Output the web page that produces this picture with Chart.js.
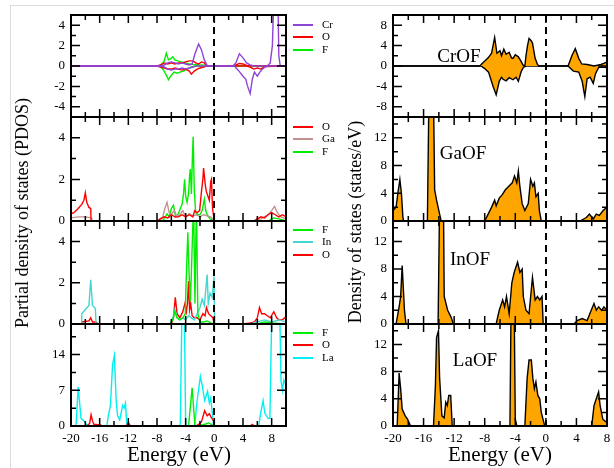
<!DOCTYPE html>
<html>
<head>
<meta charset="utf-8">
<script src="https://cdn.jsdelivr.net/npm/chart.js@4"></script>
<style>
  body { margin: 0; background: #fff; width: 614px; height: 468px; overflow: hidden; position: relative; font-family: "Liberation Serif", serif; }
  canvas { position: absolute; }
  .t { position: absolute; white-space: nowrap; color: #000; line-height: 1; }
  .ytitle { font-size: 18px; transform: translate(-50%, -50%) rotate(-90deg); }
  .xtitle { font-size: 21px; transform: translate(-50%, -50%); }
  .name { font-size: 19px; transform: translate(-50%, -50%); }
  .leg { position: absolute; font-size: 11px; }
  .leg span.l { position: absolute; left: 0; width: 20px; height: 2px; }
  .leg span.n { position: absolute; left: 29px; top: -6px; }
  #outer { position: absolute; left: 10px; top: 5px; width: 640px; height: 500px; border: 1px solid #dcdcdc; }
</style>
</head>
<body>
<div id="outer"></div>

<script>
// ---- tick labels ----
const xLabels = [-20, -16, -12, -8, -4, 0, 4, 8];
const pdosTicks = [0, 2, 4];
const crPdosTicks = [-4, -2, 0, 2, 4];
const laPdosTicks = [0, 7, 14];
const dosTicks = [0, 4, 8, 12];
const crDosTicks = [-8, -4, 0, 4, 8];

// ---- CrOF partial DOS (spin up +, spin down -) ----
const crofCrUpE = [-20, -7.5, -7, -6.5, -6, -5.5, -5, -4.5, -4, -3.5, -3.1, -2.7, -2.2, -1.8, -1.4, -1.0, -0.8, 2.6, 3.0, 3.5, 4.0, 4.5, 5.0, 5.5, 7.4, 7.8, 8.1, 8.4, 8.8, 9.0, 9.2, 10];
const crofCrUpY = [0, 0, 0.1, 0.3, 0.4, 0.3, 0.2, 0.3, 0.2, 0.1, 0.2, 1.2, 2.15, 1.6, 0.6, 0.05, 0, 0, 0.3, 1.2, 0.8, 0.3, 0.1, 0, 0, 0.3, 2, 9, 10, 1, 0, 0];
const crofCrDnE = [-20, -7.5, -7, -6.5, -6, -5.5, -5, -4.5, -4, -3.5, -3, -2.5, 2.8, 3.5, 4.0, 4.4, 4.6, 5.0, 5.3, 5.6, 6.0, 6.3, 6.7, 7.1, 7.5, 10];
const crofCrDnY = [0, 0, -0.1, -0.3, -0.4, -0.3, -0.3, -0.2, -0.3, -0.2, -0.1, 0, 0, -0.55, -1.0, -1.3, -1.9, -2.7, -1.3, -0.6, -1.0, -0.65, -0.3, -0.1, 0, 0];
const crofOUpE = [-20, -8, -7.5, -7, -6.5, -6, -5.5, -5, -4.5, -4, -3.5, -3.0, -2.6, -2.2, -1.8, -1.4, -1, 2.5, 3.0, 3.5, 4.0, 4.5, 10];
const crofOUpY = [0, 0, 0.1, 0.3, 0.2, 0.3, 0.2, 0.3, 0.3, 0.4, 0.5, 0.5, 0.3, 0.2, 0.4, 0.3, 0, 0, 0.1, 0.25, 0.2, 0.05, 0];
const crofODnE = [-20, -8, -7.5, -7, -6.5, -6, -5.5, -5, -4.5, -4, -3.5, -3.2, -2.8, -2.4, -2, -1.5, -1, 4.5, 5, 5.5, 6, 6.5, 7, 10];
const crofODnY = [0, 0, -0.1, -0.2, -0.3, -0.3, -0.2, -0.3, -0.4, -0.3, -0.5, -0.8, -0.5, -0.3, -0.2, -0.1, 0, 0, -0.1, -0.3, -0.2, -0.3, -0.05, 0];
const crofFUpE = [-20, -7.8, -7.3, -7.0, -6.7, -6.4, -6.1, -5.8, -5.5, -5.1, -4.6, -4.0, -3.5, -3.0, -2.0, -1.0, 10];
const crofFUpY = [0, 0, 0.2, 0.5, 1.25, 0.6, 0.7, 0.9, 0.6, 0.5, 0.4, 0.3, 0.2, 0.15, 0.1, 0.05, 0];
const crofFDnE = [-20, -7.8, -7.3, -7.0, -6.7, -6.4, -6.0, -5.6, -5.2, -4.8, -4.3, -3.8, -3.2, -2.5, 10];
const crofFDnY = [0, 0, -0.2, -0.5, -0.9, -1.35, -0.9, -0.6, -0.7, -0.6, -0.5, -0.3, -0.1, 0, 0];

// ---- GaOF partial DOS ----
const gaofOE = [-20, -19.6, -19, -18.5, -18.2, -18.0, -17.8, -17.5, -17.25, -17.2, -17.0, -8, -7.5, -7, -6.5, -6, -5.5, -5, -4.5, -4, -3.5, -3.0, -2.75, -2.4, -2.05, -1.8, -1.6, -1.5, -1.4, -1.25, -1.1, -0.9, -0.7, -0.5, -0.4, -0.25, 0, 5.5, 6, 6.5, 7, 7.5, 8, 8.5, 9, 9.5, 10];
const gaofOY = [0.35, 0.4, 0.6, 0.8, 1.0, 1.35, 0.9, 0.65, 0.6, 0.05, 0, 0, 0.1, 0.2, 0.15, 0.3, 0.2, 0.2, 0.3, 0.2, 0.3, 0.2, 0.5, 0.4, 0.5, 1.4, 2.0, 2.55, 2.2, 1.7, 1.4, 1.2, 1.0, 1.9, 2.0, 0.6, 0, 0, 0.1, 0.2, 0.15, 0.3, 0.4, 0.3, 0.2, 0.3, 0.2];
const gaofGaE = [-20, -19, -18, -17.2, -17.1, -8, -7.2, -6.9, -6.6, -6.3, -6.0, -5.6, -5.2, -4.8, -4.4, -4.0, -3.5, -3.0, -2.5, -2.0, -1.5, -1.0, -0.5, 0, 5.5, 6.5, 7.0, 7.5, 8.0, 8.4, 8.8, 9.3, 10];
const gaofGaY = [0.15, 0.2, 0.2, 0.15, 0, 0, 0.2, 0.6, 0.9, 0.4, 0.3, 0.5, 0.2, 0.3, 0.5, 0.2, 0.35, 0.25, 0.3, 0.2, 0.3, 0.25, 0.2, 0, 0, 0.1, 0.2, 0.3, 0.5, 0.7, 0.4, 0.2, 0.1];
const gaofFE = [-20, -7.3, -7.0, -6.6, -6.3, -6.0, -5.7, -5.4, -5.0, -4.75, -4.5, -4.3, -4.15, -4.0, -3.8, -3.6, -3.45, -3.35, -3.2, -3.05, -2.95, -2.8, -2.6, -2.3, -2.0, -1.7, -1.4, -1.2, -1.0, -0.6, -0.3, 0, 7.5, 8.3, 9, 10];
const gaofFY = [0, 0, 0.1, 0.35, 0.2, 0.6, 0.75, 0.2, 0.35, 0.6, 0.8, 1.3, 2.0, 1.2, 0.9, 1.3, 2.2, 2.5, 1.3, 3.2, 4.05, 1.5, 0.4, 0.3, 0.3, 0.5, 1.05, 0.5, 0.3, 0.1, 0.05, 0, 0, 0.15, 0.1, 0];

// ---- InOF partial DOS ----
const inofFE = [-20, -6.2, -5.8, -5.5, -5.2, -4.8, -4.4, -4.05, -3.95, -3.7, -3.55, -3.35, -3.2, -2.9, -2.7, -2.5, -2.3, -2.0, -1.5, -1.0, -0.5, 0, 6, 7, 8, 10];
const inofFY = [0, 0, 0.2, 0.6, 0.3, 0.2, 0.3, 0.5, 1.9, 4.45, 2.7, 1.1, 2.5, 6, 1.0, 6, 0.5, 0.1, 0.1, 0.15, 0.05, 0, 0, 0.1, 0.05, 0];
const inofInE = [-20, -18.6, -18.5, -18.0, -17.5, -17.25, -17.0, -16.6, -16.5, -6.2, -5.8, -5.5, -5.2, -4.8, -4.4, -4.0, -3.6, -3.2, -2.8, -2.4, -2.0, -1.7, -1.4, -1.0, -0.85, -0.6, -0.3, -0.05, 0.05, 5, 6, 7, 8, 9, 10];
const inofInY = [0, 0, 0.5, 0.7, 0.9, 2.15, 0.9, 0.75, 0, 0, 0.3, 0.7, 0.3, 0.2, 0.3, 0.2, 0.4, 0.3, 0.2, 0.5, 0.8, 1.2, 0.9, 2.4, 1.0, 1.5, 1.3, 2.3, 0, 0, 0.1, 0.2, 0.1, 0.2, 0.1];
const inofOE = [-20, -18.6, -18.5, -17.5, -17.25, -17.0, -16.5, -16.4, -6.0, -5.7, -5.45, -5.2, -4.8, -4.4, -4.1, -3.9, -3.75, -3.6, -3.45, -3.3, -3.1, -2.8, -2.4, -2.0, -1.6, -1.3, -1.1, -0.8, -0.5, -0.2, 0, 4, 5, 5.6, 6.0, 6.3, 6.6, 7.0, 7.4, 7.8, 8.3, 8.7, 9.0, 9.5, 10];
const inofOY = [0, 0, 0.1, 0.15, 0.3, 0.1, 0.1, 0, 0, 0.3, 1.3, 0.5, 0.3, 0.6, 1.0, 0.6, 1.0, 2.08, 0.7, 1.0, 0.4, 0.3, 0.3, 0.2, 0.5, 0.4, 0.8, 0.5, 0.4, 0.3, 0, 0, 0.05, 0.1, 0.3, 0.8, 0.5, 0.5, 0.4, 0.3, 0.6, 0.3, 0.2, 0.2, 0.35];

// ---- LaOF partial DOS ----
const laofFE = [-20, -3.6, -3.1, -2.7, -2.0, -1.2, -0.8, -0.3, 0, 10];
const laofFY = [0, 0, 7.5, 0, 0.1, 0.4, 0.6, 0.2, 0, 0];
const laofOE = [-20, -17.8, -17.4, -17.2, -17.0, -16.8, -16.5, -16, -15.5, -12.3, -12.0, -11.7, -2.6, -2.2, -1.8, -1.35, -1.0, -0.7, -0.4, -0.1, 0, 5, 5.3, 5.6, 10];
const laofOY = [0, 0, 0.5, 2.2, 1.0, 0.3, 0.3, 0.2, 0, 0, 0.7, 0, 0, 0.3, 0.8, 3.0, 2.0, 2.4, 1.6, 1.0, 0, 0, 0.3, 0, 0];
const laofLaE = [-20, -19.3, -19.0, -18.6, -18.2, -17.8, -17.7, -15.0, -14.8, -14.5, -14.2, -13.95, -13.7, -13.5, -13.2, -12.8, -12.6, -12.4, -12.2, -4.75, -4.5, -4.2, -4.0, -2.75, -2.4, -1.95, -1.7, -1.35, -0.95, -0.7, -0.5, -0.1, 6.2, 6.4, 6.6, 6.8, 7.05, 7.5, 7.75, 8.05, 8.5, 9.1, 9.3, 9.5, 9.7, 10];
const laofLaY = [0, 0, 7.7, 1.5, 1.0, 0.2, 0, 0, 2, 4, 12, 13.8, 5, 2, 1.2, 4, 3.5, 4.5, 0, 0, 25, 25, 0, 0, 5, 9.7, 8, 5, 6.8, 4.5, 5.5, 0, 0, 2, 3.5, 5, 2.5, 1.5, 1.5, 25, 25, 25, 9, 7, 9, 8];

// ---- total DOS ----
const crofTotUpE = [-20, -8.65, -8.2, -7.55, -7.1, -6.7, -6.4, -6.0, -5.8, -5.5, -5.2, -4.8, -4.5, -4.3, -4.0, -3.6, -3.2, -3.0, -2.75, -2.6, -2.4, -2.2, -1.95, -1.75, -1.4, -1.1, -0.9, 2.9, 3.2, 3.4, 3.85, 4.3, 4.7, 5.4, 6.3, 7.2, 7.6, 8];
const crofTotUpY = [0, 0, 0.7, 1.6, 2.5, 5.6, 2.5, 3.0, 2.0, 3.3, 2.3, 2.7, 1.6, 1.5, 2.2, 1.8, 0.8, 0.2, 0, 2.0, 4.0, 5.4, 5.0, 4.5, 1.5, 0.3, 0, 0, 1.2, 2.0, 3.4, 1.5, 0.4, 0.3, 0, 0.3, 0.5, 0.8];
const crofTotDnE = [-20, -8.5, -8.0, -7.5, -6.9, -6.5, -6.1, -5.8, -5.6, -5.2, -4.8, -4.3, -3.9, -3.6, -3.2, -2.9, -2.6, 2.9, 3.6, 4.3, 4.75, 5.1, 5.4, 5.8, 6.2, 6.5, 6.9, 7.3, 8];
const crofTotDnY = [0, 0, -0.5, -1.2, -4, -5.65, -3.0, -2.2, -2.6, -2.9, -2.3, -2.7, -2.2, -3.0, -1.0, -0.2, 0, 0, -1.0, -1.2, -3.0, -6.0, -2.5, -2.2, -3.4, -1.5, -0.3, -0.2, -0.3];
const gaofTotE = [-20, -19.6, -19.3, -19.1, -18.9, -18.7, -18.6, -15.5, -15.3, -15.1, -14.7, -14.55, -14.3, -13.9, -13.7, -8.0, -7.55, -7.1, -6.7, -6.5, -6.1, -5.7, -5.3, -4.85, -4.4, -4.1, -3.8, -3.6, -3.4, -3.1, -2.75, -2.3, -2.0, -1.7, -1.5, -1.3, -1.0, -0.85, -0.6, 4.45, 5.3, 5.7, 6.2, 6.6, 7.0, 7.5, 8];
const gaofTotY = [1.5, 2.0, 4.5, 6.0, 4.0, 0.5, 0, 0, 18, 18, 18, 4.5, 3.0, 1.0, 0, 0, 1.0, 2.0, 3.0, 2.2, 3.3, 3.8, 4.5, 5.0, 5.5, 6.5, 5.5, 7.2, 5.0, 2.5, 1.5, 2.5, 6.0, 5.0, 5.5, 3.5, 4.0, 1.5, 0, 0, 0.5, 1.0, 0.3, 1.0, 0.8, 1.5, 2.0];
const inofTotE = [-20, -19.6, -19.2, -19.0, -18.8, -18.5, -18.3, -14.1, -13.9, -13.4, -13.3, -12.85, -12.4, -12.1, -6.5, -6.1, -5.65, -5.4, -5.15, -4.8, -4.45, -4.15, -3.7, -3.4, -3.1, -2.95, -2.6, -2.2, -1.75, -1.4, -1.1, -0.8, -0.5, -0.35, 3.7, 4.1, 4.75, 5.4, 5.75, 6.3, 6.6, 6.9, 7.3, 7.6, 8];
const inofTotY = [0, 0, 2.5, 4.0, 8.5, 2.0, 0, 0, 18, 18, 4.0, 2.0, 1.0, 0, 0, 2.0, 3.5, 2.5, 4.0, 1.5, 6.0, 7.5, 9.0, 7.5, 8.0, 4.0, 2.0, 1.5, 6.8, 3.5, 4.0, 3.5, 4.0, 0, 0, 0.5, 0.8, 0.5, 1.5, 3.0, 2.0, 2.5, 2.0, 2.5, 2.0];
const laofTotE = [-20, -19.45, -19.2, -19.0, -18.8, -18.4, -18.1, -17.9, -17.7, -14.7, -14.45, -14.3, -14.05, -13.9, -13.6, -13.3, -13.1, -12.9, -12.7, -12.45, -12.25, -4.7, -4.55, -4.15, -4.0, -3.8, -2.75, -2.45, -2.2, -1.9, -1.7, -1.5, -1.3, -1.05, -0.8, -0.6, -0.15, 6.0, 6.3, 6.6, 6.9, 7.1, 7.45, 8];
const laofTotY = [0, 0, 7.8, 5.5, 2.5, 1.5, 1.0, 0.5, 0, 0, 6, 13, 14, 7, 1.5, 1.2, 3.5, 3.0, 4.5, 4.5, 0, 0, 18, 18, 1, 0, 0, 7, 9.7, 9.7, 7, 5.5, 6.5, 4.5, 4.0, 2.0, 0, 0, 3, 4, 5, 3, 1, 0.5];

const C = { Cr: '#8e44d6', O: '#ff0000', F: '#00ee00', Ga: '#c49090', In: '#40d8d0', La: '#00f0f0' };
const FONT = '"Liberation Serif", serif';

function line(xs, ys, color) {
  return { data: xs.map((x, i) => ({ x: x, y: ys[i] })), borderColor: color, borderWidth: 1.4,
           pointRadius: 0, tension: 0, fill: false };
}
function area(xs, ys) {
  return { data: xs.map((x, i) => ({ x: x, y: ys[i] })), borderColor: '#000', borderWidth: 1.4,
           backgroundColor: '#ffa500', pointRadius: 0, tension: 0, fill: 'origin' };
}

// frame, inward ticks and the dashed Fermi line
const framePlugin = {
  id: 'frame',
  afterDatasetsDraw(chart, args, o) {
    const ctx = chart.ctx, a = chart.chartArea, sx = chart.scales.x, sy = chart.scales.y;
    ctx.save();
    ctx.strokeStyle = '#000';
    ctx.lineWidth = 2;
    ctx.setLineDash([7, 5]);
    const x0 = Math.round(sx.getPixelForValue(0));
    ctx.beginPath(); ctx.moveTo(x0, a.top); ctx.lineTo(x0, a.bottom); ctx.stroke();
    ctx.setLineDash([]);
    ctx.lineWidth = 1.5;
    for (let v = sx.min; v <= sx.max + 1e-9; v += o.xStep) {
      const p = sx.getPixelForValue(v);
      const len = (Math.abs(v % 4) < 1e-9) ? 8 : 5;
      ctx.beginPath();
      ctx.moveTo(p, a.bottom); ctx.lineTo(p, a.bottom - len);
      ctx.moveTo(p, a.top); ctx.lineTo(p, a.top + len);
      ctx.stroke();
    }
    for (let v = o.yFrom; v <= sy.max + 1e-9; v += o.yStep) {
      const p = sy.getPixelForValue(v);
      const len = o.yMajor.some(m => Math.abs(m - v) < 1e-9) ? 9 : 5;
      ctx.beginPath();
      ctx.moveTo(a.left, p); ctx.lineTo(a.left + len, p);
      ctx.moveTo(a.right, p); ctx.lineTo(a.right - len, p);
      ctx.stroke();
    }
    ctx.lineWidth = 2;
    ctx.strokeRect(a.left, a.top, a.right - a.left, a.bottom - a.top);
    ctx.restore();
  }
};

function panel(box, xMax, yMin, yMax, yTicks, yStep, showX, datasets) {
  const cv = document.createElement('canvas');
  const w = box.r - box.l + 46;
  const h = box.b - box.t + 6 + (showX ? 28 : 6);
  cv.width = w; cv.height = h;
  cv.style.left = (box.l - 40) + 'px';
  cv.style.top = (box.t - 6) + 'px';
  cv.style.width = w + 'px'; cv.style.height = h + 'px';
  document.body.appendChild(cv);
  new Chart(cv, {
    type: 'line',
    data: { datasets: datasets },
    plugins: [framePlugin],
    options: {
      responsive: false, animation: false, devicePixelRatio: 1,
      layout: { padding: { left: 0, top: 6, right: 6, bottom: showX ? 0 : 6 } },
      plugins: { legend: { display: false }, tooltip: { enabled: false },
                 frame: { xStep: 2, yStep: yStep, yFrom: yMin, yMajor: yTicks } },
      scales: {
        x: {
          type: 'linear', min: -20, max: xMax, display: showX,
          grid: { display: false, drawTicks: false }, border: { display: false },
          ticks: { color: '#000', padding: 5, maxRotation: 0, autoSkip: false, font: { family: FONT, size: 13 } },
          afterBuildTicks: s => { s.ticks = xLabels.map(v => ({ value: v })); },
          afterFit: s => { s.height = showX ? 28 : 0; s.paddingLeft = 0; s.paddingRight = 0; }
        },
        y: {
          type: 'linear', min: yMin, max: yMax,
          grid: { display: false, drawTicks: false }, border: { display: false },
          ticks: { color: '#000', padding: 6, font: { family: FONT, size: 13 } },
          afterBuildTicks: s => { s.ticks = yTicks.map(v => ({ value: v })); },
          afterFit: s => { s.width = 40; s.paddingTop = 0; s.paddingBottom = 0; }
        }
      }
    }
  });
}

const rows = [15, 117, 221, 324, 426];
const L = { l: 71, r: 286 }, R = { l: 393, r: 607 };
function box(col, i) { return { l: col.l, r: col.r, t: rows[i], b: rows[i + 1] }; }

panel(box(L, 0), 10, -5, 5, crPdosTicks, 1, false, [
  line(crofCrUpE, crofCrUpY, C.Cr), line(crofCrDnE, crofCrDnY, C.Cr),
  line(crofOUpE, crofOUpY, C.O), line(crofODnE, crofODnY, C.O),
  line(crofFUpE, crofFUpY, C.F), line(crofFDnE, crofFDnY, C.F)]);
panel(box(L, 1), 10, 0, 5, pdosTicks, 1, false, [
  line(gaofOE, gaofOY, C.O), line(gaofGaE, gaofGaY, C.Ga), line(gaofFE, gaofFY, C.F)]);
panel(box(L, 2), 10, 0, 5, pdosTicks, 1, false, [
  line(inofFE, inofFY, C.F), line(inofInE, inofInY, C.In), line(inofOE, inofOY, C.O)]);
panel(box(L, 3), 10, 0, 20, laPdosTicks, 3.5, true, [
  line(laofFE, laofFY, C.F), line(laofOE, laofOY, C.O), line(laofLaE, laofLaY, C.La)]);

panel(box(R, 0), 8, -10, 10, crDosTicks, 2, false, [area(crofTotUpE, crofTotUpY), area(crofTotDnE, crofTotDnY)]);
panel(box(R, 1), 8, 0, 15, dosTicks, 2, false, [area(gaofTotE, gaofTotY)]);
panel(box(R, 2), 8, 0, 15, dosTicks, 2, false, [area(inofTotE, inofTotY)]);
panel(box(R, 3), 8, 0, 15, dosTicks, 2, true, [area(laofTotE, laofTotY)]);

// text: titles, compound names, legends
function text(cls, s, x, y) {
  const d = document.createElement('div');
  d.className = 't ' + cls; d.textContent = s;
  d.style.left = x + 'px'; d.style.top = y + 'px';
  document.body.appendChild(d);
}
text('ytitle', 'Partial density of states (PDOS)', 22, 213);
text('ytitle', 'Density of states (states/eV)', 355, 222);
text('xtitle', 'Energy (eV)', 179, 454);
text('xtitle', 'Energy (eV)', 500, 454);
text('name', 'CrOF', 459, 55);
text('name', 'GaOF', 463, 152);
text('name', 'InOF', 470, 258);
text('name', 'LaOF', 475, 359);

const legends = [
  { y: 24, items: [['Cr', C.Cr], ['O', C.O], ['F', C.F]] },
  { y: 126, items: [['O', C.O], ['Ga', C.Ga], ['F', C.F]] },
  { y: 229, items: [['F', C.F], ['In', C.In], ['O', C.O]] },
  { y: 332, items: [['F', C.F], ['O', C.O], ['La', C.La]] }
];
legends.forEach(g => {
  g.items.forEach((it, i) => {
    const d = document.createElement('div');
    d.className = 'leg';
    d.style.left = '293px'; d.style.top = (g.y + i * 12.3) + 'px';
    d.innerHTML = '<span class="l" style="background:' + it[1] + '"></span><span class="n">' + it[0] + '</span>';
    document.body.appendChild(d);
  });
});
</script>
</body>
</html>
